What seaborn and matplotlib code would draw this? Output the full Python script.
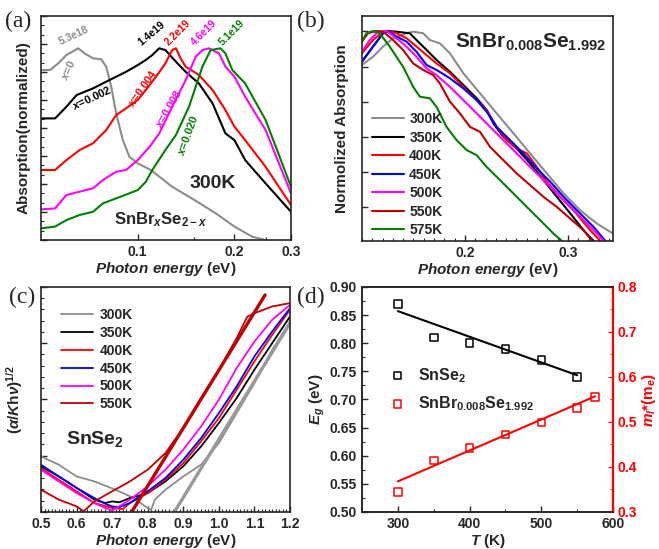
import numpy as np
import pandas as pd
import matplotlib
matplotlib.use('Agg')
import matplotlib.pyplot as plt
import seaborn as sns
from matplotlib.ticker import MultipleLocator, FixedLocator, FixedFormatter, NullFormatter, LogLocator

# ---- panel (a): SnBrxSe2-x at 300K (log x) ----
a_x0 = [0.05, 0.0534, 0.0566, 0.060, 0.0653, 0.0684, 0.0726, 0.077, 0.0798, 0.0827, 0.0857,
        0.0899, 0.0942, 0.1, 0.110, 0.128, 0.150, 0.175, 0.2, 0.227, 0.25]
a_y0 = [0.759, 0.759, 0.789, 0.826, 0.856, 0.833, 0.811, 0.807, 0.774, 0.685, 0.565,
        0.446, 0.372, 0.342, 0.312, 0.238, 0.179, 0.119, 0.060, 0.015, 0.0]
a_x1 = [0.05, 0.0553, 0.060, 0.0645, 0.0726, 0.0798, 0.092, 0.1, 0.106, 0.111, 0.1167,
        0.122, 0.1315, 0.141, 0.155, 0.171, 0.1875, 0.2, 0.216, 0.25, 0.3]
a_y1 = [0.543, 0.543, 0.595, 0.647, 0.677, 0.707, 0.751, 0.781, 0.804, 0.826, 0.856,
        0.848, 0.796, 0.751, 0.699, 0.610, 0.476, 0.446, 0.357, 0.253, 0.126]
a_x2 = [0.05, 0.0553, 0.060, 0.066, 0.0726, 0.0798, 0.0857, 0.092, 0.1, 0.106, 0.114, 0.122,
        0.128, 0.1315, 0.136, 0.141, 0.155, 0.171, 0.1875, 0.2, 0.216, 0.25, 0.3]
a_y2 = [0.3125, 0.3125, 0.357, 0.402, 0.432, 0.491, 0.558, 0.588, 0.625, 0.670, 0.729, 0.789,
        0.848, 0.856, 0.811, 0.774, 0.737, 0.670, 0.580, 0.506, 0.446, 0.327, 0.156]
a_x3 = [0.05, 0.0553, 0.060, 0.066, 0.0726, 0.078, 0.0857, 0.092, 0.1, 0.109, 0.1167,
        0.128, 0.141, 0.1515, 0.159, 0.1666, 0.179, 0.1875, 0.2, 0.216, 0.25, 0.3]
a_y3 = [0.137, 0.141, 0.201, 0.216, 0.231, 0.268, 0.305, 0.3125, 0.357, 0.417, 0.476,
        0.595, 0.714, 0.818, 0.848, 0.856, 0.833, 0.774, 0.729, 0.640, 0.491, 0.208]
a_x4 = [0.05, 0.0553, 0.060, 0.066, 0.0726, 0.078, 0.0857, 0.1, 0.106, 0.111, 0.122,
        0.1315, 0.1444, 0.159, 0.1686, 0.181, 0.1875, 0.197, 0.216, 0.25, 0.3]
a_y4 = [0.052, 0.060, 0.089, 0.112, 0.126, 0.164, 0.186, 0.223, 0.260, 0.3125, 0.402,
        0.469, 0.595, 0.774, 0.848, 0.856, 0.833, 0.759, 0.699, 0.536, 0.238]
a_carriers = ['5.3e18', '1.4e19', '2.2e19', '4.6e19', '5.1e19']
a_xlabels = ['$x$=0', '$x$=0.002', '$x$=0.004', '$x$=0.008', '$x$=0.020']

# ---- panel (b): SnBr0.008Se1.992 vs temperature ----
b_labels = ['300K', '350K', '400K', '450K', '500K', '550K', '575K']
b_x300 = [0.1, 0.1107, 0.1205, 0.1302, 0.1432, 0.1497, 0.1594, 0.1659, 0.1756, 0.1854,
          0.1984, 0.2146, 0.2308, 0.2471, 0.2633, 0.2795, 0.2958, 0.312, 0.3282, 0.3438]
b_y300 = [0.782, 0.819, 0.864, 0.901, 0.923, 0.930, 0.923, 0.893, 0.878, 0.834,
          0.745, 0.656, 0.567, 0.478, 0.389, 0.300, 0.211, 0.136, 0.077, 0.033]
b_x350 = [0.1, 0.1107, 0.1205, 0.1253, 0.1334, 0.1464, 0.1529, 0.1627, 0.1724, 0.1854, 0.1984,
          0.2114, 0.2211, 0.2276, 0.2373, 0.2503, 0.2633, 0.2763, 0.2893, 0.3023, 0.3153, 0.325]
b_y350 = [0.797, 0.864, 0.923, 0.933, 0.930, 0.923, 0.893, 0.849, 0.804, 0.752, 0.693,
          0.634, 0.582, 0.522, 0.463, 0.411, 0.344, 0.270, 0.196, 0.122, 0.047, 0.0]
b_x400 = [0.1, 0.1107, 0.1205, 0.1253, 0.1334, 0.1432, 0.1529, 0.1627, 0.1724, 0.1854, 0.1984,
          0.2114, 0.2211, 0.2308, 0.2406, 0.2503, 0.2601, 0.2698, 0.2795, 0.2925, 0.3055,
          0.3218, 0.3315]
b_y400 = [0.834, 0.893, 0.930, 0.933, 0.923, 0.901, 0.864, 0.826, 0.789, 0.745, 0.685,
          0.626, 0.582, 0.507, 0.448, 0.411, 0.389, 0.329, 0.263, 0.196, 0.136, 0.047, 0.0]
b_x450 = [0.1, 0.1107, 0.1205, 0.1253, 0.1334, 0.1432, 0.1529, 0.1627, 0.1724, 0.1854, 0.1984,
          0.2114, 0.2211, 0.2308, 0.2438, 0.2568, 0.2698, 0.2828, 0.2958, 0.3088, 0.325, 0.3364]
b_y450 = [0.797, 0.864, 0.923, 0.933, 0.908, 0.886, 0.841, 0.782, 0.760, 0.723, 0.678,
          0.626, 0.574, 0.507, 0.448, 0.389, 0.322, 0.263, 0.196, 0.136, 0.062, 0.0]
b_x500 = [0.1, 0.1075, 0.1156, 0.1237, 0.1334, 0.1432, 0.1529, 0.1627, 0.1724, 0.1854, 0.1984,
          0.2114, 0.2244, 0.2373, 0.2503, 0.2633, 0.2763, 0.2893, 0.3023, 0.3153, 0.3282, 0.3347]
b_y500 = [0.841, 0.893, 0.930, 0.933, 0.901, 0.864, 0.819, 0.767, 0.737, 0.685, 0.626,
          0.567, 0.507, 0.448, 0.389, 0.329, 0.270, 0.211, 0.151, 0.092, 0.033, 0.0]
b_x550 = [0.1, 0.1058, 0.1140, 0.1205, 0.1302, 0.1399, 0.1497, 0.1594, 0.1692, 0.1756, 0.1854,
          0.1951, 0.2049, 0.2146, 0.2244, 0.2373, 0.2503, 0.2633, 0.2763, 0.2893, 0.3023,
          0.3153, 0.3234]
b_y550 = [0.886, 0.923, 0.933, 0.930, 0.893, 0.849, 0.789, 0.760, 0.737, 0.700, 0.619,
          0.567, 0.507, 0.485, 0.418, 0.359, 0.300, 0.248, 0.196, 0.151, 0.099, 0.047, 0.0]
b_x575 = [0.1, 0.1042, 0.1107, 0.1172, 0.1269, 0.1399, 0.1497, 0.1562, 0.1659, 0.1724, 0.1821,
          0.1919, 0.2016, 0.2114, 0.2211, 0.2341, 0.2471, 0.2601, 0.2731, 0.2860, 0.2942]
b_y575 = [0.886, 0.923, 0.933, 0.923, 0.864, 0.774, 0.685, 0.641, 0.634, 0.596, 0.507,
          0.448, 0.404, 0.381, 0.329, 0.270, 0.211, 0.151, 0.092, 0.033, 0.0]

# ---- panel (c): SnSe2 Tauc plots ----
c_labels = ['300K', '350K', '400K', '450K', '500K', '550K']
c_x300 = [0.5, 0.55, 0.6, 0.65, 0.7, 0.75, 0.78, 0.8, 0.81, 0.82, 0.85, 0.9, 0.95, 1.0, 1.05, 1.1, 1.15, 1.2]
c_y300 = [0.247, 0.210, 0.158, 0.136, 0.105, 0.070, 0.040, 0.018, 0.010, 0.055, 0.099, 0.158,
          0.210, 0.306, 0.439, 0.572, 0.720, 0.846]
c_x350 = [0.5, 0.55, 0.6, 0.65, 0.68, 0.7, 0.72, 0.75, 0.8, 0.85, 0.9, 0.95, 1.0, 1.05, 1.1, 1.15, 1.2]
c_y350 = [0.203, 0.158, 0.107, 0.055, 0.040, 0.047, 0.043, 0.062, 0.084, 0.136, 0.203, 0.291,
          0.395, 0.506, 0.632, 0.750, 0.868]
c_x400 = [0.5, 0.55, 0.6, 0.65, 0.7, 0.73, 0.75, 0.8, 0.85, 0.9, 0.95, 1.0, 1.05, 1.1, 1.15, 1.2]
c_y400 = [0.195, 0.143, 0.092, 0.040, 0.018, 0.013, 0.040, 0.084, 0.143, 0.217, 0.314, 0.417,
          0.543, 0.669, 0.787, 0.898]
c_x450 = [0.5, 0.55, 0.6, 0.65, 0.68, 0.7, 0.72, 0.75, 0.8, 0.85, 0.9, 0.95, 1.0, 1.05, 1.1, 1.15, 1.2]
c_y450 = [0.210, 0.158, 0.107, 0.062, 0.037, 0.025, 0.021, 0.040, 0.092, 0.151, 0.232, 0.328,
          0.439, 0.558, 0.691, 0.802, 0.905]
c_x500 = [0.5, 0.55, 0.6, 0.65, 0.68, 0.7, 0.72, 0.75, 0.8, 0.85, 0.9, 0.95, 1.0, 1.05, 1.1, 1.15, 1.2]
c_y500 = [0.188, 0.136, 0.084, 0.040, 0.018, 0.007, 0.025, 0.055, 0.114, 0.188, 0.277, 0.380,
          0.499, 0.639, 0.757, 0.854, 0.920]
c_x550 = [0.5, 0.55, 0.6, 0.62, 0.65, 0.7, 0.75, 0.8, 0.85, 0.9, 0.95, 1.0, 1.05, 1.08, 1.1, 1.15, 1.2]
c_y550 = [0.099, 0.055, 0.025, 0.003, 0.047, 0.092, 0.136, 0.188, 0.262, 0.373, 0.506, 0.632,
          0.772, 0.868, 0.883, 0.913, 0.928]
c_fit300_x = [0.875, 1.2]
c_fit300_y = [0.0, 0.839]
c_fit550_x = [0.755, 1.13]
c_fit550_y = [0.0, 0.964]

# ---- panel (d): band gap and effective mass ----
d_T = [300, 350, 400, 450, 500, 550]
d_Eg = [0.87, 0.81, 0.80, 0.79, 0.77, 0.74]
d_Eg_fit_T = [300, 550]
d_Eg_fit = [0.857, 0.743]
d_T2 = [300, 350, 400, 450, 500, 550, 575]
d_m = [0.345, 0.414, 0.442, 0.472, 0.499, 0.531, 0.555]
d_m_fit_T = [300, 575]
d_m_fit = [0.368, 0.557]

sns.set_style('ticks')
plt.rcParams['font.family'] = ['Liberation Sans', 'DejaVu Sans']
plt.rcParams['font.weight'] = 'bold'
plt.rcParams['axes.labelweight'] = 'bold'
plt.rcParams['axes.linewidth'] = 1.2
plt.rcParams['xtick.direction'] = 'in'
plt.rcParams['ytick.direction'] = 'in'
plt.rcParams['xtick.labelsize'] = 10
plt.rcParams['ytick.labelsize'] = 10
plt.rcParams['axes.labelsize'] = 11
plt.rcParams['mathtext.fontset'] = 'custom'
plt.rcParams['mathtext.rm'] = 'Liberation Sans:bold'
plt.rcParams['mathtext.it'] = 'Liberation Sans:italic:bold'
plt.rcParams['mathtext.bf'] = 'Liberation Sans:bold'
plt.rcParams['mathtext.sf'] = 'Liberation Sans:bold'

GRAY = '#8c8c8c'
DKRED = '#c00000'
GREEN = '#008000'
xlab = r'$Photon\ energy$ (eV)'

fig = plt.figure(figsize=(6.59, 5.49), dpi=100)
ax_a = fig.add_axes([0.0622, 0.5628, 0.3794, 0.408])
ax_b = fig.add_axes([0.5493, 0.561, 0.381, 0.41])
ax_c = fig.add_axes([0.0622, 0.0674, 0.3778, 0.41])
ax_d = fig.add_axes([0.5493, 0.0674, 0.381, 0.41])

# (a)
a_sets = [(a_x0, a_y0, GRAY), (a_x1, a_y1, 'black'), (a_x2, a_y2, 'red'),
          (a_x3, a_y3, 'magenta'), (a_x4, a_y4, GREEN)]
for xs, ys, col in a_sets:
    sns.lineplot(x=xs, y=ys, ax=ax_a, color=col, lw=1.5, sort=False)
ax_a.set_xscale('log')
ax_a.set_xlim(0.05, 0.3)
ax_a.set_ylim(0, 1.0)
ax_a.xaxis.set_major_locator(FixedLocator([0.1, 0.2, 0.3]))
ax_a.xaxis.set_major_formatter(FixedFormatter(['0.1', '0.2', '0.3']))
ax_a.xaxis.set_minor_locator(LogLocator(base=10, subs=np.arange(2, 10) * 0.5))
ax_a.xaxis.set_minor_formatter(NullFormatter())
ax_a.yaxis.set_major_locator(MultipleLocator(0.125))
ax_a.yaxis.set_minor_locator(MultipleLocator(0.0417))
ax_a.set_yticklabels([])
ax_a.set_xlabel(xlab, labelpad=1)
ax_a.set_ylabel('Absorption(normalized)', labelpad=4)
a_cpos = [(0.132, 0.915, 25), (0.444, 0.924, 40), (0.548, 0.924, 45), (0.652, 0.924, 45), (0.764, 0.924, 45)]
a_xpos = [(0.11, 0.759, 65), (0.204, 0.634, 25), (0.404, 0.679, 55), (0.508, 0.589, 60), (0.588, 0.469, 70)]
for i, (_, _, col) in enumerate(a_sets):
    px, py, rot = a_cpos[i]
    ax_a.text(px, py, a_carriers[i], transform=ax_a.transAxes, color=col, fontsize=7.5,
              rotation=rot, ha='center', va='center')
    px, py, rot = a_xpos[i]
    ax_a.text(px, py, a_xlabels[i], transform=ax_a.transAxes, color=col, fontsize=8,
              rotation=rot, ha='center', va='center')
ax_a.text(0.688, 0.254, '300K', transform=ax_a.transAxes, fontsize=14, ha='center', va='center')
ax_a.text(0.48, 0.089, r'SnBr$_{x}$Se$_{2-x}$', transform=ax_a.transAxes, fontsize=12,
          ha='center', va='center')

# (b)
b_sets = [(b_x300, b_y300, GRAY), (b_x350, b_y350, 'black'), (b_x400, b_y400, 'red'),
          (b_x450, b_y450, 'blue'), (b_x500, b_y500, 'magenta'), (b_x550, b_y550, DKRED),
          (b_x575, b_y575, GREEN)]
for (xs, ys, col), lab in zip(b_sets, b_labels):
    sns.lineplot(x=xs, y=ys, ax=ax_b, color=col, lw=1.5, sort=False, label=lab)
ax_b.set_xlim(0.1, 0.3438)
ax_b.set_ylim(0, 1.0)
ax_b.xaxis.set_major_locator(FixedLocator([0.2, 0.3]))
ax_b.xaxis.set_minor_locator(MultipleLocator(0.01))
ax_b.set_yticks([0.151, 0.307, 0.463, 0.619, 0.775, 0.931])
ax_b.set_yticklabels([])
ax_b.set_xlabel(xlab, labelpad=1)
ax_b.set_ylabel('Normolized Absorption', labelpad=6)
ax_b.legend(loc='upper left', bbox_to_anchor=(0.0, 0.615), frameon=False, fontsize=10,
            handlelength=2.3, handletextpad=0.4, labelspacing=0.32, borderaxespad=0.3)
ax_b.text(0.67, 0.884, r'SnBr$_{0.008}$Se$_{1.992}$', transform=ax_b.transAxes, fontsize=15,
          ha='center', va='center')

# (c)
c_sets = [(c_x300, c_y300, GRAY), (c_x350, c_y350, 'black'), (c_x400, c_y400, 'red'),
          (c_x450, c_y450, 'blue'), (c_x500, c_y500, 'magenta'), (c_x550, c_y550, DKRED)]
for (xs, ys, col), lab in zip(c_sets, c_labels):
    sns.lineplot(x=xs, y=ys, ax=ax_c, color=col, lw=1.3, sort=False, label=lab)
sns.lineplot(x=c_fit300_x, y=c_fit300_y, ax=ax_c, color='#999999', lw=2.4)
sns.lineplot(x=c_fit550_x, y=c_fit550_y, ax=ax_c, color=DKRED, lw=2.4)
ax_c.set_xlim(0.5, 1.2)
ax_c.set_ylim(0, 1.0)
ax_c.set_xticks([0.5, 0.6, 0.7, 0.8, 0.9, 1.0, 1.1, 1.2])
ax_c.set_xticklabels(['0.5', '0.6', '0.7', '0.8', '0.9', '1.0', '1.1', '1.2'])
ax_c.xaxis.set_minor_locator(MultipleLocator(0.01))
ax_c.yaxis.set_major_locator(MultipleLocator(0.25))
ax_c.yaxis.set_minor_locator(MultipleLocator(0.05))
ax_c.set_yticklabels([])
ax_c.set_xlabel(xlab, labelpad=1)
ax_c.set_ylabel(r'$(\alpha/K\mathrm{h}\nu)^{1/2}$', labelpad=8)
ax_c.legend(loc='upper left', bbox_to_anchor=(0.04, 0.95), frameon=False, fontsize=10,
            handlelength=2.3, handletextpad=0.5, labelspacing=0.28, borderaxespad=0.3)
ax_c.text(0.217, 0.324, r'SnSe$_2$', transform=ax_c.transAxes, fontsize=14, ha='center', va='center')

# (d)
ax_d2 = ax_d.twinx()
sns.lineplot(x=d_Eg_fit_T, y=d_Eg_fit, ax=ax_d, color='black', lw=1.5)
sns.scatterplot(x=d_T, y=d_Eg, ax=ax_d, marker='s', s=30, facecolor='none', edgecolor='black',
                linewidth=1.1, label=r'SnSe$_2$')
sns.lineplot(x=d_m_fit_T, y=d_m_fit, ax=ax_d2, color='red', lw=1.5)
sns.scatterplot(x=d_T2, y=d_m, ax=ax_d2, marker='s', s=30, facecolor='none', edgecolor='red',
                linewidth=1.1, label=r'SnBr$_{0.008}$Se$_{1.992}$')
ax_d.set_xlim(250, 600)
ax_d.set_ylim(0.5, 0.9)
ax_d2.set_ylim(0.3, 0.8)
ax_d.xaxis.set_major_locator(FixedLocator([300, 400, 500, 600]))
ax_d.xaxis.set_minor_locator(FixedLocator([350, 450, 550]))
ax_d.yaxis.set_major_locator(MultipleLocator(0.05))
ax_d.yaxis.set_minor_locator(MultipleLocator(0.025))
ax_d.yaxis.set_major_formatter(matplotlib.ticker.FormatStrFormatter('%.2f'))
ax_d2.yaxis.set_major_locator(MultipleLocator(0.1))
ax_d2.yaxis.set_minor_locator(MultipleLocator(0.05))
ax_d2.yaxis.set_major_formatter(matplotlib.ticker.FormatStrFormatter('%.1f'))
ax_d2.tick_params(axis='y', which='both', colors='red', direction='in')
ax_d2.spines['right'].set_color('red')
ax_d2.spines['right'].set_linewidth(1.6)
ax_d.set_xlabel(r'$T$ (K)', labelpad=1)
ax_d.set_ylabel(r'$E_g$ (eV)', labelpad=2)
ax_d2.set_ylabel(r'$m_l$*(m$_e$)', color='red', labelpad=2)
h1, l1 = ax_d.get_legend_handles_labels()
h2, l2 = ax_d2.get_legend_handles_labels()
if ax_d2.get_legend() is not None:
    ax_d2.get_legend().remove()
ax_d.legend(h1 + h2, l1 + l2, loc='center left', bbox_to_anchor=(0.02, 0.545), frameon=False,
            fontsize=11.5, handletextpad=0.3, labelspacing=0.6, markerscale=1.0)

for ax in [ax_a, ax_b, ax_c, ax_d]:
    ax.tick_params(which='major', length=4, width=1)
    ax.tick_params(which='minor', length=2, width=0.8)

for lab, (px, py) in zip(['(a)', '(b)', '(c)', '(d)'], [(18, 21), (311, 21), (22, 297), (311, 297)]):
    fig.text(px / 659, 1 - py / 549, lab, fontsize=17, family='Liberation Serif', weight='normal',
             ha='center', va='center')

fig.savefig('out.png', dpi=100)
